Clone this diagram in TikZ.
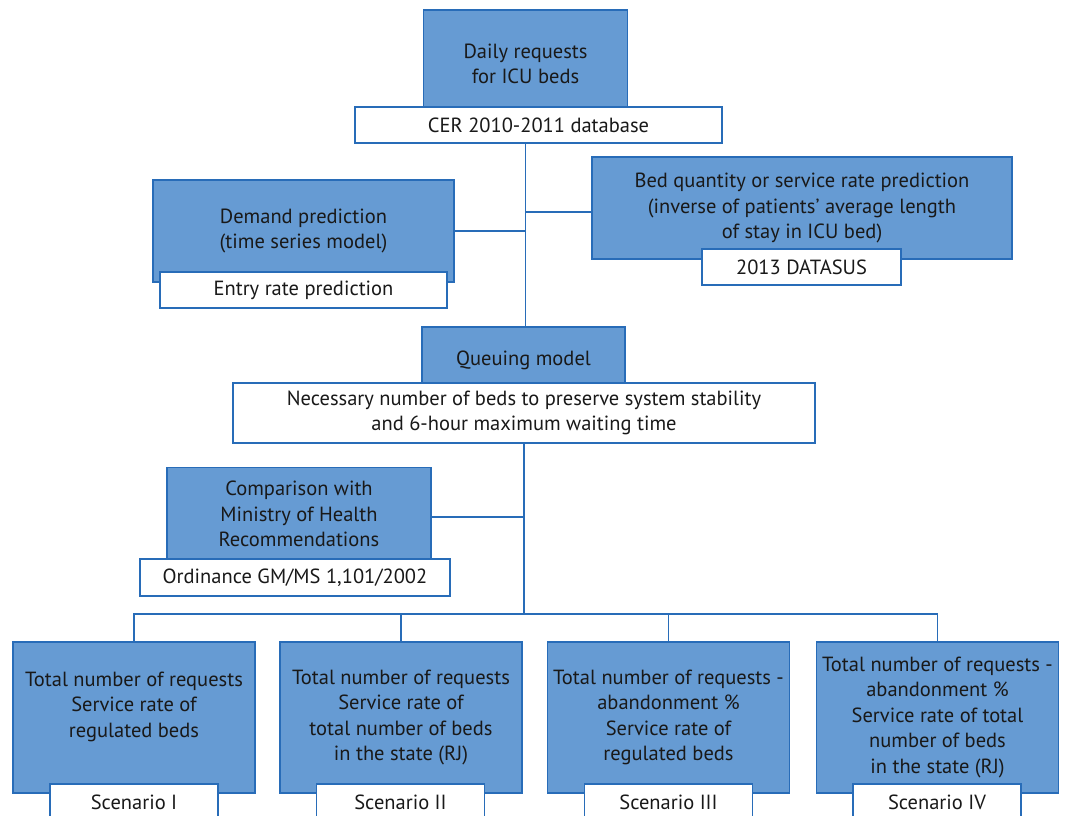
\documentclass[tikz,border=0pt]{standalone}
\usepackage{fontspec}
\setmainfont{PT Sans}
\usetikzlibrary{backgrounds}
\definecolor{boxfill}{RGB}{102,155,211}
\definecolor{boxline}{RGB}{40,108,184}
\newcommand{\lowered}[1]{\raisebox{-5pt}[\height][\depth]{#1}}
\begin{document}
\begin{tikzpicture}[x=1pt,y=-1pt,
  every node/.style={font=\fontsize{20.5}{25.5}\selectfont, align=center, inner sep=0pt, text=black!90},
  bluebox/.style={draw=boxline, fill=boxfill, line width=1.4pt},
  whitebox/.style={draw=boxline, fill=white, line width=1.4pt},
  conn/.style={draw=boxline, line width=1.4pt}]
\useasboundingbox (0,0) rectangle (1065,816);
\begin{scope}
\clip (0,0) rectangle (1065,816);
% boxes
\node[bluebox, minimum width=204pt, minimum height=98pt] (req) at (525.5,59) {\lowered{Daily requests}\\\lowered{for ICU beds}};
\node[whitebox, minimum width=367pt, minimum height=36pt] (cer) at (538.5,125) {CER 2010-2011 database};
\node[bluebox, minimum width=301pt, minimum height=102pt] (dem) at (303.5,231) {Demand prediction\\(time series model)};
\node[whitebox, minimum width=287pt, minimum height=36pt] (entry) at (303.5,290) {Entry rate prediction};
\node[bluebox, minimum width=420pt, minimum height=102pt] (bed) at (802,208) {Bed quantity or service rate prediction\\(inverse of patients’ average length\\of stay in ICU bed)};
\node[whitebox, minimum width=199pt, minimum height=36pt] (datasus) at (801.5,267) {2013 DATASUS};
\node[bluebox, minimum width=203pt, minimum height=56pt] (queue) at (523.5,355) {\lowered{Queuing model}};
\node[whitebox, minimum width=582pt, minimum height=60pt] (need) at (524,413) {Necessary number of beds to preserve system stability\\and 6-hour maximum waiting time};
\node[bluebox, minimum width=264pt, minimum height=93pt] (comp) at (299,514) {Comparison with\\Ministry of Health\\Recommendations};
\node[whitebox, minimum width=310pt, minimum height=37pt] (ord) at (295,577.5) {Ordinance GM/MS 1,101/2002};
\node[bluebox, minimum width=242pt, minimum height=151pt] (s1) at (134,717.5) {Total number of requests\\Service rate of\\regulated beds\\~};
\node[bluebox, minimum width=242pt, minimum height=151pt] (s2) at (401,717.5) {Total number of requests\\Service rate of\\total number of beds\\in the state (RJ)};
\node[bluebox, minimum width=242pt, minimum height=151pt] (s3) at (668.5,717.5) {Total number of requests -\\abandonment \%\\Service rate of\\regulated beds};
\node[bluebox, minimum width=242pt, minimum height=151pt] (s4) at (937.5,717.5) {Total number of requests -\\abandonment \%\\Service rate of total\\number of beds\\in the state (RJ)};
\node[whitebox, minimum width=168pt, minimum height=36pt] (c1) at (134,802) {Scenario I};
\node[whitebox, minimum width=168pt, minimum height=36pt] (c2) at (400.5,802) {Scenario II};
\node[whitebox, minimum width=168pt, minimum height=36pt] (c3) at (668.5,802) {Scenario III};
\node[whitebox, minimum width=168pt, minimum height=36pt] (c4) at (937,802) {Scenario IV};
\end{scope}
\coordinate (bus) at (need.south |- 0,614);
\begin{pgfonlayer}{background}
\draw[conn] (req.south |- cer.south) -- (req.south |- queue.north);
\draw[conn] ([yshift=-4pt]bed.west) -- ([yshift=-4pt]bed.west -| req.south);
\draw[conn] (dem.east) -- (dem.east -| req.south);
\draw[conn] (need.south) -- (bus);
\draw[conn] ([yshift=-3pt]comp.east) -- ([yshift=-3pt]comp.east -| need.south);
\draw[conn] (s1.north) -- (s1.north |- bus) -- (s4.north |- bus) -- (s4.north);
\draw[conn] (s2.north) -- (s2.north |- bus);
\draw[conn] (s3.north) -- (s3.north |- bus);
\end{pgfonlayer}
\end{tikzpicture}
\end{document}
